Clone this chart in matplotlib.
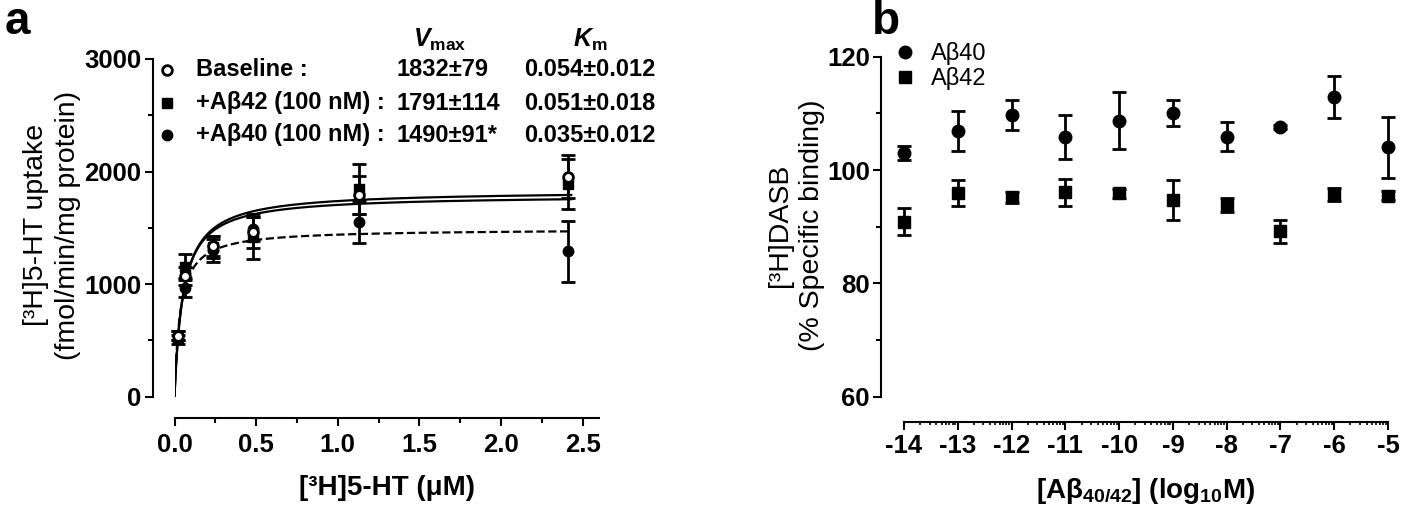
import numpy as np
from matplotlib import pyplot as plt
from matplotlib.lines import Line2D

plt.rcParams['font.family'] = ['Liberation Sans', 'DejaVu Sans']
plt.rcParams['mathtext.fontset'] = 'custom'
plt.rcParams['mathtext.rm'] = 'Liberation Sans'
plt.rcParams['mathtext.it'] = 'Liberation Sans:italic:bold'
plt.rcParams['mathtext.bf'] = 'Liberation Sans:bold'
plt.rcParams['axes.unicode_minus'] = False

# panel a: [3H]5-HT uptake
conc_a = [0.02, 0.065, 0.235, 0.48, 1.13, 2.41]
baseline = [540, 1070, 1340, 1460, 1790, 1955]
baseline_err = [40, 80, 90, 140, 170, 190]
ab42 = [510, 1150, 1330, 1420, 1845, 1890]
ab42_err = [40, 115, 100, 200, 220, 220]
ab40 = [545, 970, 1300, 1490, 1550, 1290]
ab40_err = [40, 85, 100, 110, 185, 270]

legend_names = ['Baseline :', '+A\u03b242 (100 nM) :', '+A\u03b240 (100 nM) :']
vmax = [1832, 1791, 1490]
vmax_txt = ['1832\u00b179', '1791\u00b1114', '1490\u00b191*']
km = [0.054, 0.051, 0.035]
km_txt = ['0.054\u00b10.012', '0.051\u00b10.018', '0.035\u00b10.012']

# panel b: [3H]DASB binding
log_conc = [-14, -13, -12, -11, -10, -9, -8, -7, -6, -5]
b_ab40 = [103.0, 106.9, 109.7, 105.8, 108.7, 110.1, 105.9, 107.6, 112.9, 104.0]
b_ab40_err = [1.3, 3.5, 2.6, 3.9, 5.0, 2.3, 2.5, 0.4, 3.7, 5.4]
b_ab42 = [90.9, 95.9, 95.2, 96.1, 95.9, 94.7, 93.8, 89.2, 95.7, 95.5]
b_ab42_err = [2.4, 2.3, 1.0, 2.4, 0.8, 3.5, 1.2, 2.0, 1.2, 0.8]

W, H = 1418, 512
fig = plt.figure(figsize=(W / 100, H / 100), dpi=100)
ax1 = fig.add_axes([174.5 / W, 1 - 396.7 / H, (599 - 174.5) / W, (396.7 - 59) / H])
ax2 = fig.add_axes([904 / W, 1 - 396.7 / H, 484 / W, (396.7 - 56.7) / H])


def style_axes(ax, left_out, bottom_out):
    for s in ['top', 'right']:
        ax.spines[s].set_visible(False)
    ax.spines['left'].set_position(('outward', left_out))
    ax.spines['bottom'].set_position(('outward', bottom_out))
    for s in ['left', 'bottom']:
        ax.spines[s].set_linewidth(1.5)
    ax.tick_params(which='major', length=6, width=1.5, labelsize=18.5, pad=2)
    ax.tick_params(axis='x', which='major', pad=5)
    ax.tick_params(which='minor', length=3.5, width=1.5)
    for lab in ax.get_xticklabels() + ax.get_yticklabels():
        lab.set_fontweight('bold')


# ---- panel a ----
lw = 1.6
s = np.linspace(0, 2.43, 500)
styles = ['-', '-', '--']
for v, k, ls in zip(vmax, km, styles):
    ax1.plot(s, v * s / (k + s), color='black', lw=lw, ls=ls)

eb = dict(color='black', capsize=5, elinewidth=2, capthick=2, lw=0, clip_on=False)
ax1.errorbar(conc_a, ab40, yerr=ab40_err, fmt='o', ms=7.5, **eb)
ax1.errorbar(conc_a, ab42, yerr=ab42_err, fmt='s', ms=7, **eb)
ax1.errorbar(conc_a, baseline, yerr=baseline_err, fmt='o', ms=7,
             mfc='white', mec='black', mew=2, **eb)

ax1.set_xlim(0, 2.6)
ax1.set_ylim(0, 3000)
ax1.set_xticks([0, 0.5, 1.0, 1.5, 2.0, 2.5])
ax1.set_xticks(np.arange(0.25, 2.6, 0.5), minor=True)
ax1.set_yticks([0, 1000, 2000, 3000])
ax1.set_yticks([500, 1500, 2500], minor=True)
ax1.xaxis.set_major_formatter(plt.FormatStrFormatter('%.1f'))
style_axes(ax1, 15.8, 15)
ax1.set_xlabel('[\u00b3H]5-HT (\u03bcM)', fontsize=20, fontweight='bold', labelpad=13)

fig.text(36 / W, 1 - 225 / H, '[\u00b3H]5-HT uptake', rotation=90, fontsize=20.5,
         ha='center', va='center')
fig.text(68 / W, 1 - 225 / H, '(fmol/min/mg protein)', rotation=90, fontsize=20.5,
         ha='center', va='center')

# legend table
row_y = [70, 103, 135]
mk = [dict(marker='o', mfc='white', mec='black', mew=2, ms=7),
      dict(marker='s', mfc='black', mec='black', ms=7),
      dict(marker='o', mfc='black', mec='black', ms=7.5)]
for i in range(3):
    fig.lines.append(Line2D([167 / W], [1 - row_y[i] / H], transform=fig.transFigure,
                            ls='none', **mk[i]))
    fig.text(196 / W, 1 - row_y[i] / H, legend_names[i], fontsize=17, fontweight='bold',
             va='center', ha='left')
    fig.text(397 / W, 1 - row_y[i] / H, vmax_txt[i], fontsize=17, fontweight='bold',
             va='center', ha='left')
    fig.text(524 / W, 1 - row_y[i] / H, km_txt[i], fontsize=17, fontweight='bold',
             va='center', ha='left')
fig.text(440 / W, 1 - 40 / H, r'$\mathit{V}_{\mathbf{max}}$', fontsize=18, ha='center', va='center')
fig.text(590 / W, 1 - 40 / H, r'$\mathit{K}_{\mathbf{m}}$', fontsize=18, ha='center', va='center')

# ---- panel b ----
eb2 = dict(color='black', capsize=5, elinewidth=2, capthick=2, lw=0, clip_on=False)
ax2.errorbar(log_conc, b_ab40, yerr=b_ab40_err, fmt='o', ms=9, **eb2)
ax2.errorbar(log_conc, b_ab42, yerr=b_ab42_err, fmt='s', ms=8.5, **eb2)
ax2.set_xlim(-14, -5)
ax2.set_ylim(60, 120)
ax2.set_xticks(log_conc)
minor = [n + np.log10(k) for n in range(-14, -5) for k in range(2, 10)]
ax2.set_xticks(minor, minor=True)
ax2.set_yticks([60, 80, 100, 120])
ax2.set_yticks([70, 90, 110], minor=True)
style_axes(ax2, 16.5, 18)
ax2.tick_params(axis='x', which='major', pad=3)
ax2.tick_params(axis='x', which='minor', length=2.5, width=1.2)
ax2.set_xlabel('[A\u03b2$_{\\mathbf{40/42}}$] (log$_{\\mathbf{10}}$M)', fontsize=20,
               fontweight='bold', labelpad=13)

fig.text(780 / W, 1 - 225 / H, '[\u00b3H]DASB', rotation=90, fontsize=20.5,
         ha='center', va='center')
fig.text(812 / W, 1 - 225 / H, '(% Specific binding)', rotation=90, fontsize=20.5,
         ha='center', va='center')

handles = [Line2D([], [], marker='o', ls='none', color='black', ms=9),
           Line2D([], [], marker='s', ls='none', color='black', ms=8.5)]
ax2.legend(handles, ['A\u03b240', 'A\u03b242'], loc='center left',
           bbox_to_anchor=(881 / W, 1 - 66 / H), bbox_transform=fig.transFigure,
           frameon=False, fontsize=17, handletextpad=0.6, borderpad=0,
           labelspacing=0.1, handlelength=1.0)

fig.text(5 / W, 1 - 22 / H, 'a', fontsize=33, fontweight='bold', va='center', ha='left')
fig.text(872 / W, 1 - 22 / H, 'b', fontsize=33, fontweight='bold', va='center', ha='left')

fig.savefig('out.png', dpi=100)
